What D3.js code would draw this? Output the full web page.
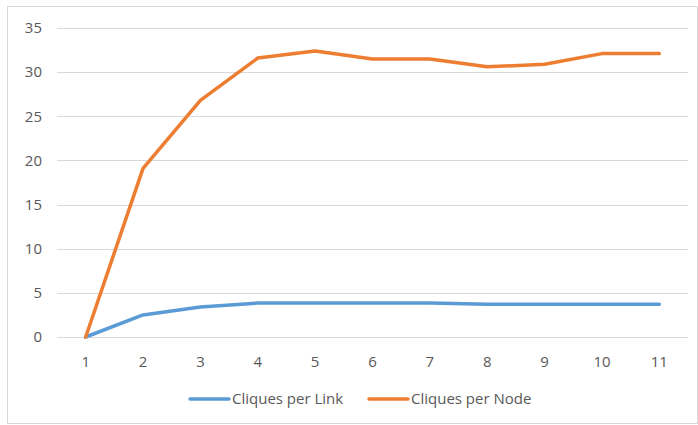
<!DOCTYPE html>
<html><head><meta charset="utf-8">
<script src="https://cdn.jsdelivr.net/npm/d3@7"></script>
<style>body{margin:0;background:#fff}svg{display:block}</style>
</head><body>
<svg id="c" width="698" height="425"></svg>
<script>
const categories = ["1","2","3","4","5","6","7","8","9","10","11"];
const cliquesPerLink = [0, 2.5, 3.4, 3.85, 3.85, 3.85, 3.85, 3.7, 3.7, 3.7, 3.7];
const cliquesPerNode = [0, 19.1, 26.8, 31.6, 32.4, 31.5, 31.5, 30.6, 30.9, 32.1, 32.1];
const yTicks = [0, 5, 10, 15, 20, 25, 30, 35];
const seriesNames = ["Cliques per Link", "Cliques per Node"];
const colors = ["#5b9bd5", "#ed7d31"];

const svg = d3.select("#c");
const font = "'Open Sans', Calibri, Carlito, sans-serif";
const fs = 15;
svg.append("rect").attr("x",7.5).attr("y",6.5).attr("width",690).attr("height",417)
  .attr("fill","#fff").attr("stroke","#d9d9d9");

const x = d3.scaleBand().domain(categories).range([57, 688]);
const y = d3.scaleLinear().domain([0, 35]).range([337, 28]);

const grid = svg.append("g");
grid.selectAll("line").data(yTicks).join("line")
  .attr("x1",57).attr("x2",688).attr("y1",d=>Math.round(y(d))+0.5).attr("y2",d=>Math.round(y(d))+0.5)
  .attr("stroke","#d9d9d9").attr("stroke-width",1);

const yAxis = svg.append("g").attr("transform","translate(57,0)")
  .call(d3.axisLeft(y).tickValues(yTicks).tickSize(0).tickPadding(15));
yAxis.select(".domain").remove();
yAxis.selectAll("text").attr("font-family",font).attr("font-size",fs).attr("fill","#595959");

const xAxis = svg.append("g").attr("transform","translate(0,337)")
  .call(d3.axisBottom(x).tickSize(0).tickPadding(19));
xAxis.select(".domain").remove();
xAxis.selectAll("text").attr("font-family",font).attr("font-size",fs).attr("fill","#595959");

const line = d3.line().x((d,i)=>x(categories[i]) + x.bandwidth()/2).y(d=>y(d));
[cliquesPerLink, cliquesPerNode].forEach((s,k)=>{
  svg.append("path").datum(s).attr("d",line).attr("fill","none")
    .attr("stroke",colors[k]).attr("stroke-width",3.5)
    .attr("stroke-linejoin","round").attr("stroke-linecap","round");
});

const legX = [190, 369];
seriesNames.forEach((n,k)=>{
  const g = svg.append("g").attr("transform",`translate(${legX[k]},399)`);
  g.append("line").attr("x1",0).attr("x2",39).attr("stroke",colors[k]).attr("stroke-width",3.5).attr("stroke-linecap","round");
  g.append("text").attr("x",42).attr("y",5).text(n).attr("font-family",font).attr("font-size",fs).attr("fill","#595959");
});
</script>
</body></html>
